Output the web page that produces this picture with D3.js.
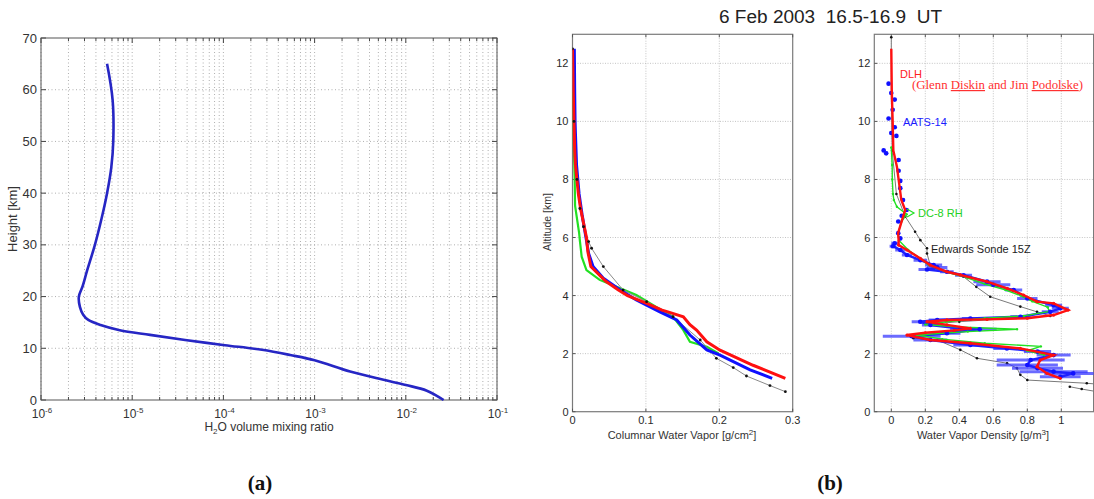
<!DOCTYPE html>
<html>
<head>
<meta charset="utf-8">
<script src="https://cdn.jsdelivr.net/npm/d3@7"></script>
<style>
  body { margin: 0; background: #fff; }
  svg { display: block; font-family: Arial, "Liberation Sans", sans-serif; }
</style>
</head>
<body>
<svg id="chart" width="1094" height="499"></svg>
<script>
// ---- panel (a): H2O mixing ratio profile ----
const mixHeight = [65, 58, 50, 45, 40, 35, 30, 25, 22, 20, 18, 16.5, 15.5, 14.5, 13.5, 12.6, 11.6, 10.6, 9.7, 8.7, 7.7, 5.5, 3.9, 2.9, 1.8, 0];
const mixRatio = [5.3e-6, 6.1e-6, 6.2e-6, 5.9e-6, 5.3e-6, 4.6e-6, 3.9e-6, 3.2e-6, 2.86e-6, 2.6e-6, 2.67e-6, 2.9e-6, 3.3e-6, 4.5e-6, 7.3e-6, 1.57e-5, 3.8e-5, 1.04e-4, 2.65e-4, 5.4e-4, 1.0e-3, 2.45e-3, 5.7e-3, 1.0e-2, 1.7e-2, 2.6e-2];
const heightTicks = [0, 10, 20, 30, 40, 50, 60, 70];
const decadeExps = [-6, -5, -4, -3, -2, -1];

// ---- panel (b) left: columnar water vapor ----
const dlhColAlt = [12.5, 11, 10, 9, 8.5, 8, 7.5, 7, 6.5, 6, 5.5, 5, 4.5, 4.2, 4.0, 3.73, 3.5, 3.44, 3.27, 3.0, 2.81, 2.41, 2.12, 1.6, 1.15];
const dlhCol = [0.000, 0.001, 0.002, 0.003, 0.004, 0.006, 0.008, 0.011, 0.015, 0.019, 0.021, 0.025, 0.045, 0.062, 0.075, 0.101, 0.122, 0.130, 0.151, 0.160, 0.169, 0.183, 0.201, 0.246, 0.290];
const aatsColAlt = [12.5, 11, 10, 9.6, 8.5, 7.5, 6.8, 6.2, 5.45, 5.0, 4.6, 4.19, 3.85, 3.44, 3.16, 2.64, 2.13, 1.95, 1.44, 1.15];
const aatsCol = [0.0025, 0.003, 0.0035, 0.004, 0.0055, 0.009, 0.013, 0.017, 0.022, 0.028, 0.042, 0.065, 0.087, 0.119, 0.142, 0.160, 0.183, 0.201, 0.242, 0.272];
const dc8ColAlt = [11, 9, 8, 7.1, 6.16, 5.9, 5.34, 4.88, 4.54, 4.25, 4.02, 3.67, 3.27, 2.81, 2.41, 2.24, 2.01];
const dc8Col = [0.001, 0.002, 0.003, 0.0035, 0.009, 0.010, 0.0125, 0.019, 0.037, 0.065, 0.087, 0.110, 0.137, 0.151, 0.160, 0.183, 0.199];
const sondeColAlt = [12.5, 10, 8, 7, 6.37, 5.86, 5.63, 5.0, 4.19, 3.79, 3.27, 2.47, 1.84, 1.52, 1.23, 0.9, 0.69];
const sondeCol = [0.000, 0.002, 0.006, 0.010, 0.015, 0.022, 0.026, 0.042, 0.069, 0.101, 0.137, 0.174, 0.196, 0.219, 0.237, 0.269, 0.290];
const colTicks = [0, 0.1, 0.2, 0.3];
const altTicks = [0, 2, 4, 6, 8, 10, 12];

// ---- panel (b) right: water vapor density ----
const dlhDenAlt = [12.5, 11, 10, 9, 8.44, 7.29, 6.95, 6.6, 6.15, 5.91, 5.74, 5.57, 5.28, 5.05, 4.82, 4.71, 4.48, 4.25, 4.02, 3.79, 3.73, 3.5, 3.33, 3.22, 3.18, 3.16, 3.1, 2.99, 2.87, 2.8, 2.72, 2.64, 2.47, 2.36, 2.18, 1.95, 1.78, 1.55, 1.32, 1.15];
const dlhDen = [0, 0.003, 0.008, 0.012, 0.033, 0.059, 0.082, 0.063, 0.04, 0.043, 0.043, 0.092, 0.171, 0.229, 0.327, 0.406, 0.563, 0.681, 0.778, 0.857, 0.955, 1.04, 0.955, 0.8, 0.563, 0.327, 0.21, 0.327, 0.465, 0.37, 0.2, 0.092, 0.229, 0.465, 0.759, 0.955, 0.876, 0.857, 0.916, 0.994];
const dc8DenAlt = [9.1, 8.5, 8.0, 7.5, 7.29, 7.06, 6.8, 6.55, 6.15, 5.9, 5.57, 5.28, 5.05, 4.82, 4.6, 4.4, 4.2, 4.0, 3.8, 3.6, 3.45, 3.3, 3.22, 3.1, 3.0, 2.92, 2.84, 2.76, 2.64, 2.5, 2.36, 2.25, 2.1, 1.95];
const dc8Den = [0.0, 0.005, 0.006, 0.01, 0.015, 0.033, 0.09, 0.06, 0.04, 0.045, 0.1, 0.17, 0.22, 0.32, 0.45, 0.55, 0.67, 0.76, 0.83, 0.92, 0.93, 0.78, 0.55, 0.32, 0.2, 0.4, 0.74, 0.45, 0.15, 0.3, 0.55, 0.88, 0.8, 0.9];
const aatsDenAlt = [11.3, 10.98, 10.75, 10.4, 10.1, 9.8, 9.6, 9.5, 9.0, 8.9, 8.67, 8.3, 7.95, 7.7, 7.29, 6.95, 6.75, 6.55, 6.15, 5.97, 5.8, 5.7, 5.57, 5.4, 5.22, 5.05, 4.97, 4.9, 4.82, 4.7, 4.48, 4.37, 4.19, 3.9, 3.67, 3.56, 3.44, 3.27, 3.21, 3.16, 3.1, 2.99, 2.87, 2.84, 2.7, 2.6, 2.47, 2.3, 2.18, 2.07, 1.95, 1.78, 1.61, 1.5, 1.38, 1.32, 1.2];
const aatsDen = [-0.016, 0.0, 0.02, 0.008, -0.016, 0.02, 0.0, 0.03, -0.045, -0.03, 0.043, 0.043, 0.053, 0.053, 0.069, 0.09, 0.061, 0.041, 0.041, 0.053, 0.02, 0.01, 0.053, 0.092, 0.171, 0.249, 0.27, 0.21, 0.327, 0.425, 0.563, 0.6, 0.72, 0.8, 0.955, 0.994, 0.935, 0.76, 0.465, 0.27, 0.17, 0.23, 0.406, 0.52, 0.327, 0.12, 0.23, 0.465, 0.68, 0.86, 0.955, 0.82, 0.8, 0.86, 0.955, 1.07, 0.994];
const aatsDenErr = [0.01, 0.01, 0.01, 0.01, 0.01, 0.01, 0.01, 0.01, 0.01, 0.01, 0.01, 0.01, 0.01, 0.01, 0.01, 0.01, 0.01, 0.01, 0.01, 0.01, 0.02, 0.02, 0.03, 0.03, 0.04, 0.05, 0.06, 0.05, 0.04, 0.05, 0.08, 0.1, 0.05, 0.06, 0.05, 0.05, 0.05, 0.06, 0.05, 0.05, 0.05, 0.05, 0.06, 0.1, 0.08, 0.17, 0.1, 0.1, 0.08, 0.08, 0.1, 0.2, 0.18, 0.15, 0.2, 0.17, 0.12];
const sondeDenAlt = [12.9, 11, 9, 7.5, 6.72, 6.2, 5.91, 5.63, 5.45, 5.05, 4.65, 4.3, 3.96, 3.62, 3.44, 3.3, 3.1, 3.02, 2.87, 2.7, 2.53, 2.47, 2.13, 1.84, 1.67, 1.5, 1.27, 1.09, 0.98, 0.93];
const sondeDen = [0, 0, 0.005, 0.03, 0.082, 0.14, 0.171, 0.21, 0.21, 0.229, 0.425, 0.5, 0.582, 0.759, 0.857, 0.935, 0.4, 0.229, 0.484, 0.3, 0.13, 0.27, 0.406, 0.504, 0.681, 0.739, 0.759, 0.8, 1.15, 1.25];
const sondeDen2Alt = [0.86, 0.78, 0.7];
const sondeDen2 = [1.05, 1.12, 1.2];
const denTicks = [0, 0.2, 0.4, 0.6, 0.8, 1];

const svg = d3.select('#chart');
const zip = (a, b) => a.map((v, i) => [v, b[i]]);

// ---------------- panel (a) ----------------
const xA = d3.scaleLog().domain([1e-6, 1e-1]).range([41, 497]);
const yA = d3.scaleLinear().domain([0, 70]).range([400, 38]);
const gA = svg.append('g');

const minorA = [];
decadeExps.slice(0, -1).forEach(e => {
  for (let m = 2; m <= 9; m++) minorA.push(m * Math.pow(10, e));
});
const majorA = decadeExps.map(e => Math.pow(10, e));

gA.selectAll('.vgrid').data(majorA.concat(minorA)).enter().append('line')
  .attr('x1', d => xA(d)).attr('x2', d => xA(d))
  .attr('y1', yA(70)).attr('y2', yA(0))
  .attr('stroke', '#9a9a9a').attr('stroke-width', 0.8).attr('stroke-dasharray', '1,2.5');
gA.selectAll('.hgrid').data(heightTicks.slice(1, -1)).enter().append('line')
  .attr('x1', xA(1e-6)).attr('x2', xA(1e-1))
  .attr('y1', d => yA(d)).attr('y2', d => yA(d))
  .attr('stroke', '#9a9a9a').attr('stroke-width', 0.8).attr('stroke-dasharray', '1,2.5');

// inward ticks on all sides
[yA(0), yA(70)].forEach((yy, k) => {
  const dir = k === 0 ? -1 : 1;
  gA.selectAll(null).data(majorA).enter().append('line')
    .attr('x1', d => xA(d)).attr('x2', d => xA(d))
    .attr('y1', yy).attr('y2', yy + dir * 5).attr('stroke', '#444');
  gA.selectAll(null).data(minorA).enter().append('line')
    .attr('x1', d => xA(d)).attr('x2', d => xA(d))
    .attr('y1', yy).attr('y2', yy + dir * 3).attr('stroke', '#444');
});
[xA(1e-6), xA(1e-1)].forEach((xx, k) => {
  const dir = k === 0 ? 1 : -1;
  gA.selectAll(null).data(heightTicks).enter().append('line')
    .attr('x1', xx).attr('x2', xx + dir * 5)
    .attr('y1', d => yA(d)).attr('y2', d => yA(d)).attr('stroke', '#444');
});
gA.append('rect')
  .attr('x', xA(1e-6)).attr('y', yA(70))
  .attr('width', xA(1e-1) - xA(1e-6)).attr('height', yA(0) - yA(70))
  .attr('fill', 'none').attr('stroke', '#555').attr('stroke-width', 1);

gA.append('path')
  .datum(zip(mixHeight, mixRatio))
  .attr('d', d3.line().x(d => xA(d[1])).y(d => yA(d[0])).curve(d3.curveCatmullRom))
  .attr('fill', 'none').attr('stroke', '#2626c4').attr('stroke-width', 2.6);

gA.selectAll('.ylab').data(heightTicks).enter().append('text')
  .attr('x', 37).attr('y', d => yA(d) + 4.5)
  .attr('text-anchor', 'end').attr('font-size', 13).attr('fill', '#333')
  .text(d => d);
const xlabA = gA.selectAll('.xlab').data(decadeExps).enter().append('text')
  .attr('x', d => xA(Math.pow(10, d)) + 1).attr('y', 418)
  .attr('text-anchor', 'middle').attr('font-size', 12).attr('fill', '#333');
xlabA.append('tspan').text('10');
xlabA.append('tspan').attr('dy', -5).attr('font-size', 8).text(d => d);

gA.append('text')
  .attr('transform', 'translate(17,219) rotate(-90)')
  .attr('text-anchor', 'middle').attr('font-size', 13).attr('fill', '#333')
  .text('Height [km]');
const tA = gA.append('text').attr('x', 269).attr('y', 431)
  .attr('text-anchor', 'middle').attr('font-size', 12).attr('fill', '#333');
tA.append('tspan').text('H');
tA.append('tspan').attr('dy', 3).attr('font-size', 8).text('2');
tA.append('tspan').attr('dy', -3).text('O volume mixing ratio');

// ---------------- panel (b) shared ----------------
const yB = d3.scaleLinear().domain([0, 13]).range([411.7, 34.3]);

function frame(g, x, xTicks, xFmt, xGrid) {
  const [x0, x1] = x.range();
  const [y0, y1] = yB.range();
  g.selectAll(null).data(xGrid).enter().append('line')
    .attr('x1', d => x(d)).attr('x2', d => x(d)).attr('y1', y0).attr('y2', y1)
    .attr('stroke', '#b5b5b5').attr('stroke-width', 0.8).attr('stroke-dasharray', '1,1.5');
  g.selectAll(null).data(altTicks.slice(1)).enter().append('line')
    .attr('x1', x0).attr('x2', x1).attr('y1', d => yB(d)).attr('y2', d => yB(d))
    .attr('stroke', '#b5b5b5').attr('stroke-width', 0.8).attr('stroke-dasharray', '1,1.5');
  g.append('rect').attr('x', x0).attr('y', y1).attr('width', x1 - x0).attr('height', y0 - y1)
    .attr('fill', 'none').attr('stroke', '#7a7a7a').attr('stroke-width', 1.2);
  g.selectAll(null).data(xTicks).enter().append('line')
    .attr('x1', d => x(d)).attr('x2', d => x(d)).attr('y1', y0).attr('y2', y0 - 3).attr('stroke', '#555');
  g.selectAll(null).data(xTicks).enter().append('line')
    .attr('x1', d => x(d)).attr('x2', d => x(d)).attr('y1', y1).attr('y2', y1 + 3).attr('stroke', '#555');
  g.selectAll(null).data(altTicks).enter().append('line')
    .attr('x1', x0).attr('x2', x0 + 3).attr('y1', d => yB(d)).attr('y2', d => yB(d)).attr('stroke', '#555');
  g.selectAll(null).data(xTicks).enter().append('text')
    .attr('x', d => x(d)).attr('y', 424).attr('text-anchor', 'middle')
    .attr('font-size', 11).attr('fill', '#2a2a2a').text(xFmt);
  g.selectAll(null).data(altTicks).enter().append('text')
    .attr('x', x0 - 4).attr('y', d => yB(d) + 4).attr('text-anchor', 'end')
    .attr('font-size', 11).attr('fill', '#2a2a2a').text(d => d);
}

function clipFor(id, x) {
  const [x0, x1] = x.range();
  const [y0, y1] = yB.range();
  svg.append('clipPath').attr('id', id).append('rect')
    .attr('x', x0).attr('y', y1).attr('width', x1 - x0).attr('height', y0 - y1);
}

// ---------------- panel (b) left ----------------
const xB = d3.scaleLinear().domain([0, 0.3]).range([572.5, 792.7]);
const gB = svg.append('g');
frame(gB, xB, colTicks, d => d, [0.1, 0.2]);
clipFor('clipB', xB);
const lineB = d3.line().x(d => xB(d[1])).y(d => yB(d[0]));
const dB = gB.append('g').attr('clip-path', 'url(#clipB)');

dB.append('path').datum(zip(dc8ColAlt, dc8Col)).attr('d', lineB)
  .attr('fill', 'none').attr('stroke', '#22e022').attr('stroke-width', 2.2);
dB.append('path').datum(zip(sondeColAlt, sondeCol)).attr('d', lineB)
  .attr('fill', 'none').attr('stroke', '#8a8a8a').attr('stroke-width', 1);
dB.append('path').datum(zip(aatsColAlt, aatsCol)).attr('d', lineB)
  .attr('fill', 'none').attr('stroke', '#1010ff').attr('stroke-width', 3);
dB.append('path').datum(zip(dlhColAlt, dlhCol)).attr('d', lineB)
  .attr('fill', 'none').attr('stroke', '#ff1010').attr('stroke-width', 3);
dB.selectAll('.sdot').data(zip(sondeColAlt, sondeCol)).enter().append('circle')
  .attr('cx', d => xB(d[1])).attr('cy', d => yB(d[0])).attr('r', 1.4).attr('fill', '#111');

gB.append('text')
  .attr('transform', 'translate(551,222) rotate(-90)')
  .attr('text-anchor', 'middle').attr('font-size', 10.5).attr('fill', '#333')
  .text('Altitude [km]');
const tB = gB.append('text').attr('x', 682).attr('y', 439)
  .attr('text-anchor', 'middle').attr('font-size', 11).attr('fill', '#333');
tB.append('tspan').text('Columnar Water Vapor [g/cm');
tB.append('tspan').attr('dy', -4).attr('font-size', 8).text('2');
tB.append('tspan').attr('dy', 4).text(']');

// ---------------- panel (b) right ----------------
const xC = d3.scaleLinear().domain([-0.1, 1.19]).range([874.3, 1093.6]);
const gC = svg.append('g');
frame(gC, xC, denTicks, d => d, denTicks);
clipFor('clipC', xC);
const lineC = d3.line().x(d => xC(d[1])).y(d => yB(d[0]));
const dC = gC.append('g').attr('clip-path', 'url(#clipC)');

[zip(sondeDenAlt, sondeDen), zip(sondeDen2Alt, sondeDen2)].forEach(s => {
  dC.append('path').datum(s).attr('d', lineC)
    .attr('fill', 'none').attr('stroke', '#7a7a7a').attr('stroke-width', 1);
  dC.selectAll(null).data(s).enter().append('circle')
    .attr('cx', d => xC(d[1])).attr('cy', d => yB(d[0])).attr('r', 1.3).attr('fill', '#111');
});

const aatsPts = aatsDenAlt.map((a, i) => ({ a, v: aatsDen[i], e: aatsDenErr[i] }));
dC.selectAll('.err').data(aatsPts).enter().append('line')
  .attr('x1', d => xC(d.v - d.e)).attr('x2', d => xC(d.v + d.e))
  .attr('y1', d => yB(d.a)).attr('y2', d => yB(d.a))
  .attr('stroke', '#3a3aff').attr('stroke-opacity', 0.75).attr('stroke-width', 3);
dC.append('path').datum(zip(aatsDenAlt, aatsDen).slice(20)).attr('d', lineC)
  .attr('fill', 'none').attr('stroke', '#2020ff').attr('stroke-width', 2.5);

dC.append('path').datum(zip(dc8DenAlt, dc8Den)).attr('d', lineC)
  .attr('fill', 'none').attr('stroke', '#22e022').attr('stroke-width', 1.4);
dC.selectAll('.gdot').data(zip(dc8DenAlt, dc8Den)).enter().append('circle')
  .attr('cx', d => xC(d[1])).attr('cy', d => yB(d[0])).attr('r', 1.2).attr('fill', '#22e022');

dC.selectAll('.bdot').data(aatsPts).enter().append('circle')
  .attr('cx', d => xC(d.v)).attr('cy', d => yB(d.a)).attr('r', 2.3).attr('fill', '#1010ff');

dC.append('path').datum(zip(dlhDenAlt, dlhDen)).attr('d', lineC)
  .attr('fill', 'none').attr('stroke', '#ff1010').attr('stroke-width', 2.4);
dC.selectAll('.rdot').data(zip(dlhDenAlt, dlhDen).slice(10)).enter().append('circle')
  .attr('cx', d => xC(d[1])).attr('cy', d => yB(d[0])).attr('r', 1.6).attr('fill', '#ff1010');

const tC = gC.append('text').attr('x', 983).attr('y', 439)
  .attr('text-anchor', 'middle').attr('font-size', 11).attr('fill', '#333');
tC.append('tspan').text('Water Vapor Density [g/m');
tC.append('tspan').attr('dy', -4).attr('font-size', 8).text('3');
tC.append('tspan').attr('dy', 4).text(']');

// annotations
gC.append('text').attr('x', 900).attr('y', 78).attr('font-size', 11).attr('fill', '#ff2020').text('DLH');
const gl = gC.append('text').attr('x', 912).attr('y', 89).attr('font-size', 12)
  .attr('font-family', '"Liberation Serif", "Times New Roman", serif').attr('fill', '#ff3030')
  .attr('textLength', 171).attr('lengthAdjust', 'spacingAndGlyphs');
gl.append('tspan').text('(Glenn ');
gl.append('tspan').attr('text-decoration', 'underline').text('Diskin');
gl.append('tspan').text(' and Jim ');
gl.append('tspan').attr('text-decoration', 'underline').text('Podolske');
gl.append('tspan').text(')');
gC.append('text').attr('x', 903).attr('y', 126).attr('font-size', 11).attr('fill', '#1a1aff').text('AATS-14');
gC.append('path').attr('d', 'M907,209 L914,213 L907,217')
  .attr('fill', 'none').attr('stroke', '#22e022').attr('stroke-width', 1.2);
gC.append('text').attr('x', 918).attr('y', 217).attr('font-size', 11).attr('fill', '#22d022').text('DC-8 RH');
gC.append('text').attr('x', 931).attr('y', 253).attr('font-size', 11).attr('fill', '#222').text('Edwards Sonde 15Z');

// title and panel letters
svg.append('text').attr('x', 719).attr('y', 23)
  .attr('font-size', 18).attr('fill', '#222').style('white-space', 'pre')
  .attr('textLength', 223).attr('lengthAdjust', 'spacingAndGlyphs')
  .text('6 Feb 2003  16.5-16.9  UT');
svg.selectAll('.plab').data([['(a)', 260], ['(b)', 830]]).enter().append('text')
  .attr('x', d => d[1]).attr('y', 490).attr('text-anchor', 'middle')
  .attr('font-family', '"Liberation Serif", "Times New Roman", serif')
  .attr('font-weight', 'bold').attr('font-size', 21).attr('fill', '#111')
  .text(d => d[0]);
</script>
</body>
</html>
